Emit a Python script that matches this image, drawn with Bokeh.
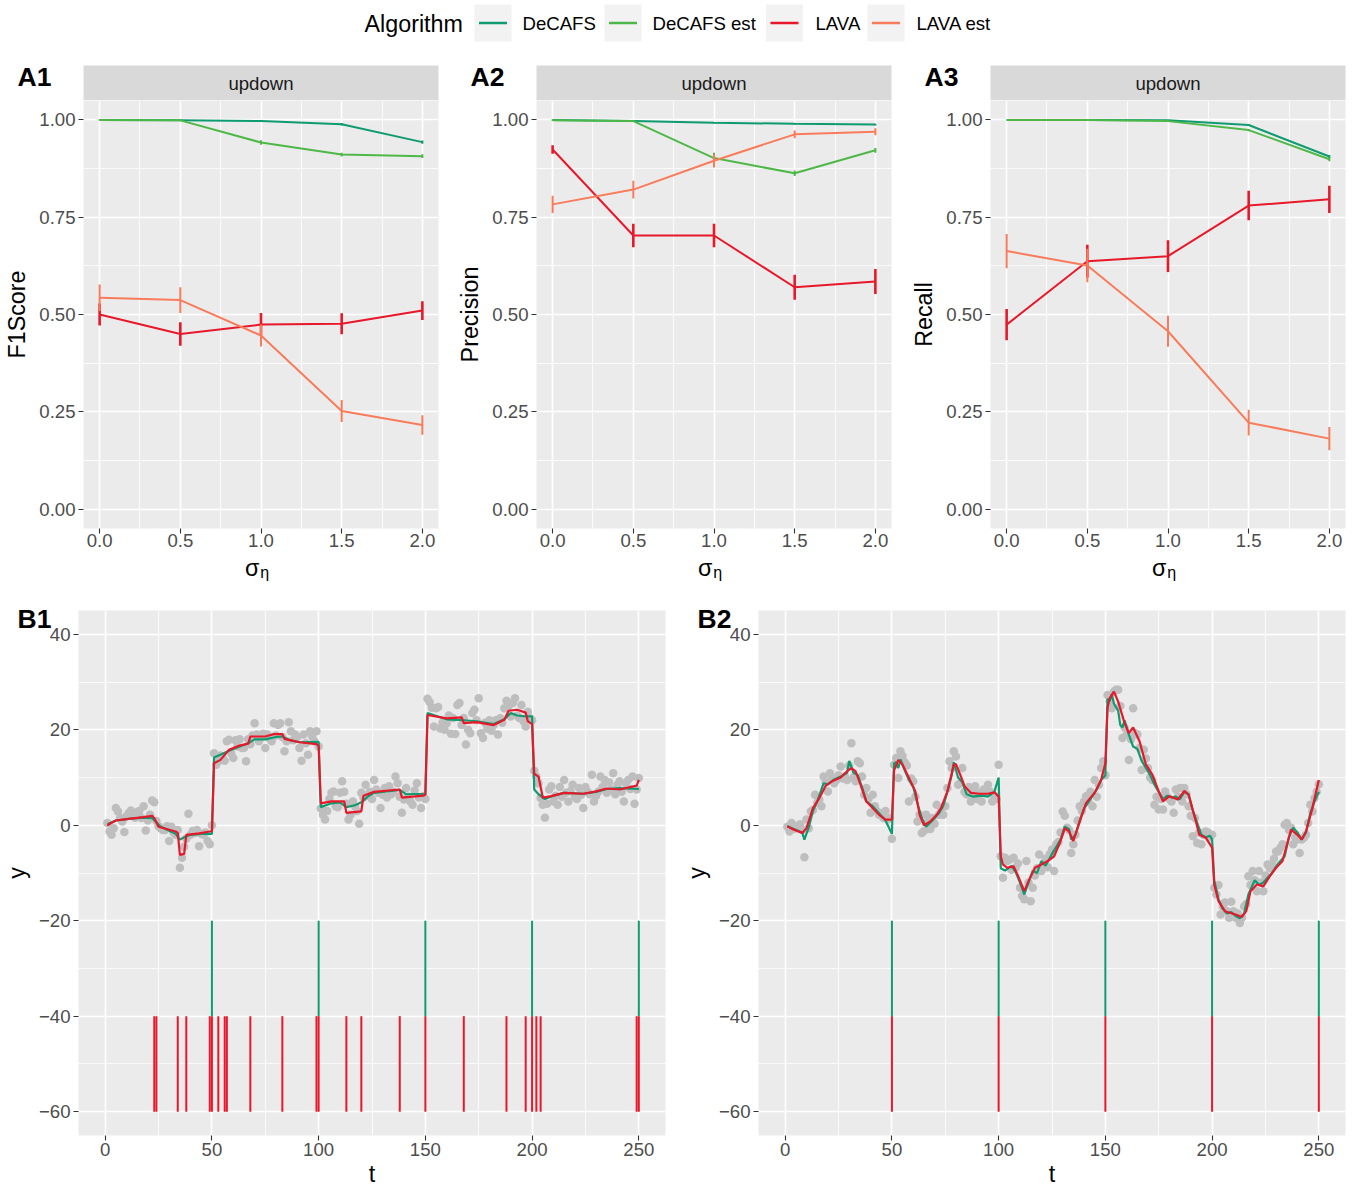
from bokeh.plotting import figure
from bokeh.layouts import column, row
from bokeh.models import Range1d, FixedTicker, NumeralTickFormatter, CustomJSTickFormatter, Title
from bokeh.core.properties import value
from bokeh.embed import file_html
from bokeh.resources import INLINE

FONT = "Liberation Sans"

# ---------------- data ----------------
algorithms = ["DeCAFS", "DeCAFS est", "LAVA", "LAVA est"]
colors = ["#0E9B70", "#4DB848", "#E8182B", "#F87C5B"]
strip_label = "updown"
sigma = [0.0, 0.5, 1.0, 1.5, 2.0]

f1_mean = {
    "DeCAFS": [1.000, 0.999, 0.997, 0.989, 0.943],
    "DeCAFS est": [1.000, 0.999, 0.942, 0.911, 0.907],
    "LAVA": [0.500, 0.450, 0.474, 0.476, 0.510],
    "LAVA est": [0.543, 0.537, 0.446, 0.252, 0.216],
}
f1_se = {
    "DeCAFS": [0.001, 0.001, 0.002, 0.003, 0.004],
    "DeCAFS est": [0.001, 0.002, 0.006, 0.005, 0.005],
    "LAVA": [0.028, 0.030, 0.030, 0.027, 0.024],
    "LAVA est": [0.034, 0.033, 0.028, 0.028, 0.025],
}
prec_mean = {
    "DeCAFS": [1.000, 0.997, 0.993, 0.990, 0.988],
    "DeCAFS est": [0.999, 0.997, 0.902, 0.863, 0.922],
    "LAVA": [0.924, 0.703, 0.703, 0.570, 0.585],
    "LAVA est": [0.783, 0.821, 0.895, 0.963, 0.970],
}
prec_se = {
    "DeCAFS": [0.001, 0.001, 0.002, 0.002, 0.002],
    "DeCAFS est": [0.001, 0.002, 0.014, 0.007, 0.006],
    "LAVA": [0.011, 0.030, 0.030, 0.032, 0.032],
    "LAVA est": [0.022, 0.023, 0.017, 0.010, 0.009],
}
rec_mean = {
    "DeCAFS": [1.000, 1.000, 0.999, 0.987, 0.906],
    "DeCAFS est": [1.000, 1.000, 0.997, 0.974, 0.899],
    "LAVA": [0.474, 0.637, 0.650, 0.780, 0.796],
    "LAVA est": [0.663, 0.626, 0.457, 0.222, 0.181],
}
rec_se = {
    "DeCAFS": [0.000, 0.000, 0.001, 0.002, 0.004],
    "DeCAFS est": [0.000, 0.000, 0.001, 0.003, 0.005],
    "LAVA": [0.040, 0.042, 0.041, 0.038, 0.035],
    "LAVA est": [0.044, 0.043, 0.040, 0.033, 0.030],
}

t = list(range(1, 251))
b1_y = [
    0.5, -1.3, -2.0, -0.6, 3.6, 2.9, 1.5, 0.8, -1.4, 1.9,
    2.5, 3.1, 2.2, 1.6, 2.8, 3.0, 1.5, 4.0, -1.1, 1.0,
    2.2, 5.2, 4.8, 0.9, -0.2, -0.6, -1.0, -1.0, -0.2, -3.3,
    -0.3, -1.5, -2.0, -1.0, -8.9, -6.8, -4.5, -2.8, 2.4, -2.0,
    -1.2, -1.6, -1.0, -4.4, -1.8, -2.0, -1.5, -3.3, -4.0, 0.0,
    15.1, 12.7, 13.4, 14.6, 14.1, 13.5, 17.6, 17.9, 15.1, 14.1,
    17.8, 16.5, 18.0, 16.2, 16.2, 13.4, 18.0, 17.0, 18.8, 21.4,
    19.0, 17.6, 18.5, 19.2, 16.2, 19.0, 18.2, 17.6, 21.4, 18.8,
    21.0, 21.4, 18.5, 15.5, 17.6, 21.6, 19.7, 17.8, 19.0, 18.5,
    16.2, 13.5, 19.0, 17.2, 14.8, 19.7, 18.6, 17.6, 19.7, 16.5,
    3.5, 2.2, 1.2, 3.0, 5.5, 6.8, 7.1, 4.0, 3.8, 6.8,
    9.2, 7.0, 4.5, 1.2, 2.2, 5.0, 4.0, 3.0, 0.3, 6.8,
    5.8, 8.5, 6.2, 7.0, 5.5, 9.5, 7.5, 6.8, 3.6, 6.4,
    7.8, 5.8, 8.2, 6.5, 7.0, 10.2, 8.8, 6.0, 2.6, 5.4,
    7.8, 6.0, 5.0, 4.3, 7.3, 8.8, 5.8, 3.6, 6.1, 5.5,
    26.5, 25.8, 24.6, 20.7, 24.5, 24.8, 20.3, 21.5, 20.0, 21.4,
    23.0, 19.2, 22.5, 19.1, 25.2, 25.6, 21.0, 22.5, 16.9, 20.0,
    19.3, 23.5, 24.2, 22.0, 26.6, 19.3, 18.3, 21.5, 20.2, 22.0,
    19.8, 21.0, 22.0, 19.0, 22.4, 21.5, 24.5, 26.1, 25.0, 22.8,
    25.6, 26.6, 23.0, 22.5, 25.2, 21.8, 20.7, 23.8, 22.5, 22.0,
    11.4, 10.2, 8.8, 5.7, 4.3, 1.6, 4.5, 7.5, 8.2, 5.0,
    6.2, 4.3, 8.0, 6.0, 9.5, 6.8, 5.0, 7.2, 8.5, 6.0,
    5.5, 7.8, 6.4, 3.6, 8.0, 7.0, 6.5, 10.6, 5.0, 6.2,
    7.0, 10.2, 8.0, 9.5, 6.8, 9.0, 7.5, 10.9, 6.5, 8.5,
    9.2, 7.0, 5.0, 8.8, 9.5, 7.6, 10.2, 4.5, 7.5, 9.9,
]
b1_decafs_t = [1, 5, 12, 18, 22, 26, 33, 35, 37, 40, 45, 50, 51, 54, 58, 63, 67, 70, 75, 80, 83, 86, 91, 100,
               101, 106, 110, 113, 117, 120, 123, 126, 138, 141, 150, 151, 160, 168, 174, 182, 187, 190, 193,
               197, 200, 201, 203, 206, 210, 215, 224, 230, 235, 241, 250]
b1_decafs_y = [0.2, 1.0, 1.4, 1.6, 1.5, -0.3, -1.8, -3.0, -2.5, -2.0, -1.8, -1.8, 14.2, 14.8, 15.6, 16.5, 17.2,
               18.0, 18.0, 18.5, 18.6, 17.9, 17.4, 17.5, 3.8, 4.6, 4.8, 3.8, 4.2, 4.8, 6.0, 6.8, 7.4, 6.5, 6.6,
               23.5, 22.2, 22.0, 21.8, 21.2, 22.2, 23.5, 23.0, 22.8, 22.8, 7.5, 6.5, 5.5, 6.2, 6.8, 6.6, 7.0,
               7.6, 7.8, 7.6]
b1_lava_t = [1, 5, 12, 18, 22, 23, 25, 33, 34, 35, 37, 38, 44, 49, 50, 51, 54, 58, 63, 67, 68, 75, 79, 83, 84,
             86, 91, 99, 100, 101, 106, 112, 113, 120, 121, 126, 138, 139, 149, 150, 151, 160, 167, 168, 174,
             182, 187, 189, 193, 197, 198, 200, 201, 203, 205, 209, 215, 224, 230, 235, 241, 249, 250]
b1_lava_y = [0.0, 1.0, 1.4, 1.7, 2.0, 1.5, -0.3, -1.3, -1.6, -6.2, -6.0, -2.0, -1.7, -1.3, -1.2, 13.0, 13.7,
             15.8, 16.7, 17.1, 18.6, 18.6, 19.1, 19.1, 18.1, 17.9, 17.4, 17.0, 16.6, 4.6, 5.0, 5.0, 2.6, 2.9,
             6.2, 7.0, 7.5, 5.8, 6.2, 6.4, 23.1, 22.4, 22.6, 21.4, 21.6, 21.0, 22.1, 24.0, 24.2, 23.6, 21.8,
             21.2, 10.8, 10.2, 5.8, 6.1, 6.8, 6.6, 7.1, 7.7, 7.5, 8.3, 9.5]
b1_cp_decafs = [50, 100, 150, 200, 250]
b1_cp_lava = [23, 24, 34, 38, 49, 50, 53, 56, 57, 68, 83, 99, 100, 113, 120, 138, 150, 168, 188, 197, 200,
              202, 204, 249, 250]

b2_y = [
    -0.3, -1.3, 0.5, -0.8, -0.2, -0.6, 0.2, -1.0, -6.7, 1.2,
    -0.6, 2.9, 3.2, 6.4, 4.7, 5.4, 4.0, 10.2, 9.0, 7.1,
    10.9, 9.9, 8.8, 9.5, 10.5, 12.3, 9.8, 10.2, 9.5, 12.5,
    17.2, 10.0, 9.2, 13.4, 13.0, 10.2, 6.4, 7.8, 5.5, 2.6,
    6.4, 4.0, 3.0, 2.2, 2.5, 1.5, 3.0, 1.2, 1.5, -2.8,
    12.7, 14.1, 9.9, 15.5, 14.5, 13.2, 12.5, 5.0, 9.8, 9.2,
    6.0, 0.8, 2.2, -1.6, -1.2, 2.2, 0.8, -0.8, 1.5, 0.3,
    4.3, 2.2, 3.5, 2.2, 4.0, 7.8, 13.4, 12.0, 15.5, 14.4,
    8.5, 8.8, 12.0, 7.0, 6.5, 8.0, 5.0, 6.8, 8.2, 5.5,
    6.8, 5.0, 7.5, 6.8, 8.5, 7.0, 5.0, 6.2, 5.5, 12.7,
    -6.5, -11.0, -6.8, -7.5, -7.2, -9.3, -6.8, -8.9, -8.0, -13.1,
    -14.8, -15.5, -7.5, -12.0, -15.9, -13.1, -10.5, -9.0, -6.1, -9.6,
    -8.5, -7.0, -8.8, -6.0, -5.1, -9.6, -4.0, -3.5, -1.5, 2.9,
    2.0, -0.5, -1.0, -5.8, -4.0, -2.0, 1.0, 4.0, 3.0, 5.0,
    6.1, 5.0, 7.0, 4.0, 9.5, 6.0, 8.5, 12.0, 13.4, 10.5,
    27.3, 26.0, 24.5, 28.0, 28.4, 28.4, 25.0, 18.3, 20.5, 19.0,
    13.7, 18.0, 24.5, 19.3, 19.0, 16.2, 11.6, 15.8, 14.0, 12.0,
    10.0, 9.5, 4.3, 6.0, 3.3, 5.5, 3.3, 7.1, 6.0, 5.5,
    5.0, 2.6, 7.5, 6.0, 7.8, 5.0, 7.8, 6.5, 4.0, 2.0,
    -2.3, 1.5, -3.7, -1.5, -4.0, -2.0, -1.3, -1.5, -2.5, -2.0,
    -13.1, -14.5, -12.5, -18.7, -17.0, -16.2, -18.0, -19.4, -16.0, -18.0,
    -19.4, -18.5, -20.5, -19.4, -17.0, -16.5, -10.7, -12.5, -9.6, -11.5,
    -13.8, -9.6, -12.0, -13.8, -10.5, -8.2, -9.0, -8.2, -7.0, -5.5,
    -5.5, -4.7, -4.0, 0.1, 0.5, -1.0, -0.5, -4.0, -2.5, -3.0,
    -5.8, -3.0, -2.6, -2.0, 0.5, 4.3, 2.9, 5.7, 7.0, 8.6,
]
b2_decafs_t = [1, 4, 8, 9, 11, 13, 15, 18, 20, 23, 26, 29, 30, 32, 34, 36, 38, 41, 44, 47, 50, 51, 52, 53, 54,
               56, 58, 60, 62, 64, 66, 69, 72, 74, 76, 78, 79, 81, 83, 85, 88, 92, 95, 98, 100, 101, 103, 106,
               108, 110, 112, 114, 116, 118, 120, 122, 125, 127, 129, 131, 133, 134, 136, 138, 140, 143, 146,
               148, 150, 151, 152, 153, 154, 156, 157, 158, 159, 161, 163, 165, 167, 169, 171, 173, 175, 177,
               179, 181, 183, 185, 187, 189, 191, 193, 195, 197, 199, 200, 201, 203, 205, 207, 209, 211, 213,
               215, 217, 219, 220, 222, 224, 226, 228, 231, 234, 236, 238, 240, 242, 244, 246, 248, 250]
b2_decafs_y = [-0.2, -0.8, -1.5, -3.0, -0.5, 3.0, 5.0, 8.8, 8.6, 9.6, 10.2, 11.0, 13.5, 11.0, 10.5, 8.0, 5.0,
               4.0, 2.5, 1.0, -1.8, 13.0, 13.2, 12.0, 13.8, 11.5, 9.5, 8.0, 4.5, 1.5, -0.3, 1.0, 2.5, 4.0,
               7.0, 10.5, 13.2, 10.0, 9.0, 6.5, 6.0, 6.2, 6.0, 7.0, 10.0, -9.0, -9.5, -8.5, -9.8, -12.0,
               -14.5, -12.0, -9.5, -10.0, -7.5, -8.5, -6.0, -4.5, -3.0, -0.3, -0.8, -3.0, -2.0, 1.0, 3.5, 5.5,
               7.5, 9.5, 10.5, 26.5, 26.0, 27.5, 25.5, 24.0, 21.0, 20.5, 22.0, 19.0, 16.5, 16.0, 13.5, 12.0,
               10.5, 8.5, 7.0, 5.5, 6.2, 5.8, 6.0, 5.5, 7.0, 6.5, 3.0, 0.5, -2.0, -2.5, -2.2, -3.0, -11.5,
               -15.5, -17.5, -18.5, -18.2, -19.0, -19.5, -18.5, -14.5, -12.5, -11.5, -12.5, -12.0, -11.0,
               -10.0, -8.0, -6.5, -2.5, -0.5, -1.5, -3.0, -1.5, 2.5, 5.0, 7.0]
b2_lava_t = [1, 3, 8, 10, 13, 16, 19, 22, 26, 29, 31, 33, 35, 38, 41, 44, 47, 50, 51, 53, 55, 58, 61, 63, 65,
             68, 71, 73, 76, 79, 80, 82, 84, 87, 91, 95, 98, 100, 101, 102, 104, 107, 109, 112, 114, 117, 120,
             123, 126, 129, 131, 133, 135, 138, 141, 145, 148, 150, 151, 152, 154, 156, 159, 161, 163, 166,
             169, 172, 175, 177, 180, 184, 187, 189, 192, 194, 197, 200, 201, 203, 206, 211, 214, 216, 218,
             221, 224, 227, 230, 233, 237, 240, 242, 244, 247, 250]
b2_lava_y = [-0.2, -0.7, -1.6, -0.6, 3.6, 5.7, 8.3, 9.2, 10.0, 11.3, 12.0, 11.3, 8.9, 5.0, 3.6, 2.2, 1.2, 1.2,
             11.5, 13.7, 12.7, 9.9, 7.1, 2.2, 0.0, 0.8, 2.2, 3.6, 7.1, 12.7, 12.8, 10.6, 8.2, 6.8, 6.6, 6.6,
             6.9, 6.0, -6.5, -8.2, -8.9, -8.6, -10.5, -13.8, -11.7, -8.9, -8.2, -7.5, -6.5, -3.3, -0.6, -1.3,
             -3.3, 0.8, 4.7, 6.8, 9.5, 13.0, 24.5, 26.6, 28.0, 25.9, 21.4, 19.3, 20.5, 17.6, 12.7, 10.6, 7.1,
             5.0, 6.1, 5.4, 7.2, 6.4, 1.5, -2.0, -2.6, -4.7, -12.4, -15.9, -18.0, -18.7, -19.2, -18.0, -13.8,
             -12.4, -12.8, -10.7, -8.9, -7.5, -0.9, -2.0, -3.0, -1.3, 3.6, 9.5]
b2_cp_decafs = [50, 100, 150, 200, 250]
b2_cp_lava = [50, 100, 150, 200, 250]

# ---------------- helpers ----------------
MAJOR_W = 1.6
MINOR_W = 0.8


def bare(p, bg="white"):
    p.grid.visible = False
    p.outline_line_color = None
    p.background_fill_color = bg
    p.border_fill_color = "white"


def style_panel(p, xt, xminor, yt, yminor, xfmt, yfmt, xlabel, ylabel):
    xtk = FixedTicker(ticks=xt, minor_ticks=xminor)
    ytk = FixedTicker(ticks=yt, minor_ticks=yminor)
    p.xaxis.ticker = xtk
    p.xgrid.ticker = xtk
    p.yaxis.ticker = ytk
    p.ygrid.ticker = ytk
    p.xaxis.formatter = xfmt
    p.yaxis.formatter = yfmt
    if xlabel:
        p.xaxis.axis_label = xlabel
    p.yaxis.axis_label = ylabel
    for ax in p.axis:
        ax.axis_line_color = None
        ax.major_tick_line_color = "#333333"
        ax.major_tick_line_width = 1.1
        ax.major_tick_out = 5
        ax.major_tick_in = 0
        ax.minor_tick_out = 0
        ax.minor_tick_in = 0
        ax.major_label_text_font = FONT
        ax.major_label_text_font_size = "18.6px"
        ax.major_label_text_color = "#4D4D4D"
        ax.axis_label_text_font = FONT
        ax.axis_label_text_font_size = "23.3px"
        ax.axis_label_text_font_style = "normal"
        ax.axis_label_text_color = "#000000"
    p.xaxis.major_label_standoff = 2
    p.xaxis.axis_label_standoff = 2
    p.yaxis.major_label_standoff = 3
    p.yaxis.axis_label_standoff = 6
    p.grid.grid_line_color = "white"
    p.grid.grid_line_width = MAJOR_W
    p.grid.minor_grid_line_color = "white"
    p.grid.minor_grid_line_width = MINOR_W
    p.background_fill_color = "#EBEBEB"
    p.border_fill_color = "white"
    p.outline_line_color = None


# ---------------- legend ----------------
LEG_H = 54
leg = figure(width=1359, height=LEG_H, x_range=Range1d(0, 1359), y_range=Range1d(LEG_H, 0),
             toolbar_location=None, output_backend="svg", x_axis_type=None, y_axis_type=None,
             min_border=0)
bare(leg)
key_x = [492.5, 622.5, 784.0, 885.5]
lab_x = [522, 652, 815, 916]
leg.text(x=[364], y=[23], text=["Algorithm"], text_font=value(FONT), text_font_size="23.3px",
         text_baseline="middle", text_color="#000000")
leg.rect(x=key_x, y=[22.5] * 4, width=37, height=37, fill_color="#F2F2F2", line_color=None)
leg.segment(x0=[k - 14 for k in key_x], y0=[22.5] * 4, x1=[k + 14 for k in key_x], y1=[22.5] * 4,
            line_color=colors, line_width=2.6)
leg.text(x=lab_x, y=[23] * 4, text=algorithms, text_font=value(FONT), text_font_size="18.6px",
         text_baseline="middle", text_color="#000000")

# ---------------- top row ----------------
TAG_H = 100 - LEG_H          # tag + strip row height (strip frame itself is 35 px)
metrics = [("A1", "F1Score", f1_mean, f1_se), ("A2", "Precision", prec_mean, prec_se),
           ("A3", "Recall", rec_mean, rec_se)]
borders = [(83, 15), (83, 16), (83, 14)]
top_cols = []
for (tagtxt, ylabel, means, ses), (bl, br) in zip(metrics, borders):
    w = bl + 355 + br
    # panel tag
    tg = figure(width=bl, height=TAG_H, x_range=Range1d(0, bl), y_range=Range1d(TAG_H, 0),
                toolbar_location=None, output_backend="svg", x_axis_type=None, y_axis_type=None,
                min_border=0)
    bare(tg)
    tg.text(x=[17], y=[15.7], text=[tagtxt], text_font=value(FONT), text_font_size="26.5px",
            text_font_style="bold", text_baseline="middle", text_color="#000000")
    # facet strip
    s = figure(width=355 + br, height=TAG_H, x_range=Range1d(0, 1), y_range=Range1d(0, 1),
               toolbar_location=None, output_backend="svg", x_axis_type=None, y_axis_type=None,
               min_border_left=0, min_border_right=br, min_border_top=TAG_H - 35, min_border_bottom=0)
    bare(s, "#D9D9D9")
    s.text(x=[0.5], y=[0.5], text=[strip_label], text_font=value(FONT), text_font_size="18.6px",
           text_align="center", text_baseline="middle", text_color="#1A1A1A")

    p = figure(width=w, height=455, x_range=Range1d(-0.1, 2.1), y_range=Range1d(-0.05, 1.05),
               toolbar_location=None, output_backend="svg",
               min_border_left=bl, min_border_right=br, min_border_top=0, min_border_bottom=27)
    style_panel(p, [0, 0.5, 1, 1.5, 2], [0.25, 0.75, 1.25, 1.75],
                [0, 0.25, 0.5, 0.75, 1], [0.125, 0.375, 0.625, 0.875],
                NumeralTickFormatter(format="0.0"), NumeralTickFormatter(format="0.00"),
                None, ylabel)
    p.xaxis.major_label_standoff = 0
    for alg, col in zip(algorithms, colors):
        m = means[alg]
        e = ses[alg]
        lw = 2.6 if alg == "LAVA" else 2.0
        p.line(sigma, m, line_color=col, line_width=2.0)
        p.segment(x0=sigma, y0=[a - b for a, b in zip(m, e)], x1=sigma, y1=[a + b for a, b in zip(m, e)],
                  line_color=col, line_width=lw)

    # x-axis title sigma_eta
    xl = figure(width=w, height=35, x_range=p.x_range, y_range=Range1d(35, 0),
                toolbar_location=None, output_backend="svg", x_axis_type=None, y_axis_type=None,
                min_border_left=bl, min_border_right=br, min_border_top=0, min_border_bottom=0)
    bare(xl)
    xl.text(x=[0.99], y=[12], text=["σ"], text_font=value(FONT), text_font_size="23.3px",
            text_align="right", text_baseline="middle", text_color="#000000")
    xl.text(x=[0.995], y=[16.5], text=["η"], text_font=value(FONT), text_font_size="16px",
            text_align="left", text_baseline="middle", text_color="#000000")
    top_cols.append(column(row(tg, s), p, xl))

# ---------------- bottom row ----------------
def bottom_panel(tagtxt, ys, dt, dy, lt, ly, cpd, cpl, bl, br):
    p = figure(width=bl + 587 + br, height=599, x_range=Range1d(-12.5, 262.5), y_range=Range1d(-65, 45),
               toolbar_location=None, output_backend="svg",
               min_border_left=bl, min_border_right=br, min_border_top=20, min_border_bottom=54)
    p.title = Title(text="\n" + tagtxt, align="left", offset=-61, standoff=-46, vertical_align="bottom",
                    text_font=FONT, text_font_size="26.5px", text_font_style="bold", text_color="#000000")
    minus_fmt = CustomJSTickFormatter(code="return tick < 0 ? '\u2212' + Math.abs(tick) : String(tick);")
    style_panel(p, [0, 50, 100, 150, 200, 250], [25, 75, 125, 175, 225],
                [-60, -40, -20, 0, 20, 40], [-50, -30, -10, 10, 30],
                NumeralTickFormatter(format="0"), minus_fmt, "t", "y")
    p.scatter(t, ys, size=8.5, fill_color="#BEBEBE", line_color=None)
    p.line(dt, dy, line_color=colors[0], line_width=2.2)
    p.line(lt, ly, line_color=colors[2], line_width=2.2)
    p.segment(x0=cpd, y0=[-40] * len(cpd), x1=cpd, y1=[-20] * len(cpd), line_color=colors[0], line_width=2.0)
    p.segment(x0=cpl, y0=[-60] * len(cpl), x1=cpl, y1=[-40] * len(cpl), line_color=colors[2], line_width=2.0)
    return p


b1 = bottom_panel("B1", b1_y, b1_decafs_t, b1_decafs_y, b1_lava_t, b1_lava_y, b1_cp_decafs, b1_cp_lava, 78, 15)
b2 = bottom_panel("B2", b2_y, b2_decafs_t, b2_decafs_y, b2_lava_t, b2_lava_y, b2_cp_decafs, b2_cp_lava, 78, 14)

layout = column(leg, row(*top_cols), row(b1, b2))
open("out.html", "w").write(file_html(layout, INLINE, title="DeCAFS vs LAVA"))
